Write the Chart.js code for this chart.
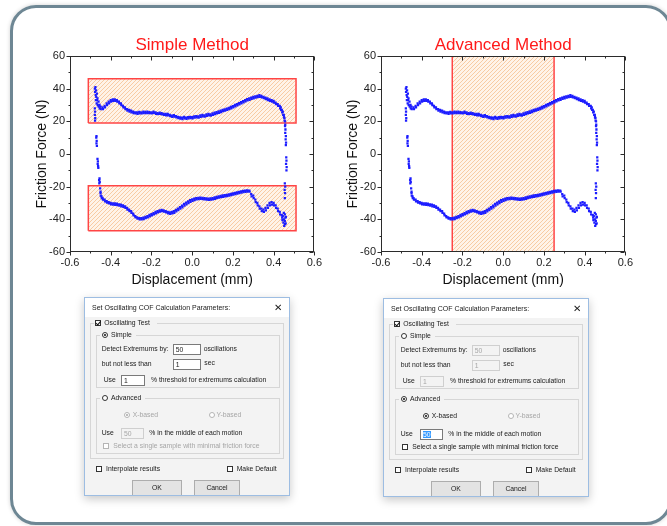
<!DOCTYPE html>
<html>
<head>
<meta charset="utf-8">
<script src="https://cdn.jsdelivr.net/npm/chart.js@4.4.1/dist/chart.umd.min.js"></script>
<style>
  html, body { margin: 0; padding: 0; background: #fff; }
  body { position: relative; width: 667px; height: 526px; overflow: hidden; font-family: "Liberation Sans", Arial, sans-serif; }
  .frame { position: absolute; left: 10px; top: 5px; width: 656px; height: 514px; border: 3px solid #6e8794; border-radius: 26px; box-shadow: 0 0 4px rgba(0,0,0,.18); }
  canvas { position: absolute; }
  #simpleChart { left: 14px; top: 30px; }
  #advancedChart { left: 325px; top: 30px; }

  .dlg { position: absolute; width: 204px; height: 197px; background: #f3f3f3; border: 1px solid #9dbde2; box-shadow: 0 3px 9px rgba(0,0,0,.22); font: 6.8px "Liberation Sans", Arial, sans-serif; color: #1a1a1a; overflow: hidden; }
  .dlg .bar { position: absolute; left: 0; top: 0; right: 0; height: 19px; background: #fff; }
  .dlg .t { position: absolute; line-height: 8px; white-space: nowrap; }
  .dlg .ttl { font-size: 7px; }
  .dlg .x { font-size: 10px; line-height: 10px; }
  .dlg .off { color: #a6a6a6; }
  .dlg .grp { position: absolute; border: 1px solid #d6d6d6; }
  .dlg .lbl { background: #f3f3f3; padding: 0 2px 0 1px; }
  .dlg .cb, .dlg .rb { position: absolute; box-sizing: border-box; width: 6px; height: 6px; border: 1px solid #333; background: #fff; }
  .dlg .rb { border-radius: 50%; }
  .dlg .cb.off, .dlg .rb.off { border-color: #b5b5b5; }
  .dlg .cb.on::after { content: ""; position: absolute; left: 1px; top: -1px; width: 1.5px; height: 3.5px; border: solid #111; border-width: 0 1px 1px 0; transform: rotate(40deg); }
  .dlg .rb.on::after { content: ""; position: absolute; left: 1px; top: 1px; width: 2px; height: 2px; border-radius: 50%; background: #111; }
  .dlg .rb.on.off::after { background: #a6a6a6; }
  .dlg .inp { position: absolute; border: 1px solid #7a7a7a; background: #fff; height: 9px; line-height: 9px; padding-left: 2px; box-sizing: content-box; }
  .dlg .inp.off { border-color: #cfcfcf; background: #f3f3f3; color: #a6a6a6; }
  .dlg .sel { background: #3399ff; color: #fff; }
  .dlg .btn { position: absolute; border: 1px solid #adadad; background: #e3e3e3; text-align: center; line-height: 13px; }
</style>
</head>
<body>
<div class="frame"></div>
<canvas id="simpleChart" width="312" height="265"></canvas>
<canvas id="advancedChart" width="312" height="265"></canvas>
<div class="dlg" id="dlgSimple" style="left:84px;top:297px"></div>
<div class="dlg" id="dlgAdvanced" style="left:383px;top:298px"></div>

<script>
// ---------------- data ----------------
const xTicks = [-0.6, -0.4, -0.2, 0.0, 0.2, 0.4, 0.6];
const yTicks = [-60, -40, -20, 0, 20, 40, 60];

// displacement (mm), friction force (N)
const upperBranch = [
  [-0.478, 40], [-0.477, 38], [-0.475, 41], [-0.474, 36], [-0.473, 33], [-0.472, 39], [-0.471, 35], [-0.469, 31],
  [-0.468, 37], [-0.467, 33], [-0.465, 34], [-0.464, 30], [-0.46, 32], [-0.459, 29], [-0.455, 30], [-0.454, 28],
  [-0.45, 29], [-0.449, 27.5], [-0.44, 28.5], [-0.438, 27.5], [-0.43, 29.5], [-0.428, 28.5], [-0.42, 31], [-0.418, 30],
  [-0.41, 32], [-0.408, 31], [-0.40, 33], [-0.398, 32], [-0.39, 33.5], [-0.388, 32.5], [-0.38, 33.5], [-0.378, 32.5],
  [-0.37, 33], [-0.368, 32], [-0.36, 32], [-0.358, 31], [-0.35, 31], [-0.348, 30], [-0.34, 29.5], [-0.338, 28.5],
  [-0.33, 28.5], [-0.328, 27.5], [-0.32, 27.5], [-0.318, 26.5], [-0.31, 27], [-0.308, 26], [-0.30, 26.5], [-0.298, 25.5],
  [-0.29, 26], [-0.288, 25], [-0.28, 25.5], [-0.278, 24.8], [-0.27, 25.5], [-0.268, 24.5], [-0.26, 25.8], [-0.258, 24.8],
  [-0.25, 25.5], [-0.248, 24.8], [-0.24, 26], [-0.238, 25], [-0.23, 25.8], [-0.228, 25], [-0.22, 26], [-0.218, 25],
  [-0.21, 25.7], [-0.208, 25], [-0.20, 25.5], [-0.198, 24.8], [-0.19, 26], [-0.188, 25.2], [-0.18, 25.5], [-0.178, 24.6],
  [-0.17, 25], [-0.168, 24.4], [-0.16, 25.3], [-0.158, 24.6], [-0.15, 25], [-0.148, 24.2], [-0.14, 24.6], [-0.138, 23.9],
  [-0.13, 24.5], [-0.128, 23.7], [-0.12, 24.6], [-0.118, 23.6], [-0.11, 24], [-0.108, 23.2], [-0.10, 23.5], [-0.098, 22.8],
  [-0.09, 23.8], [-0.088, 22.9], [-0.08, 23.2], [-0.078, 22.4], [-0.07, 22.8], [-0.068, 22], [-0.06, 22.4], [-0.058, 21.6],
  [-0.05, 22.2], [-0.048, 21.3], [-0.04, 22.8], [-0.038, 21.8], [-0.03, 22.3], [-0.028, 21.5], [-0.02, 22.6], [-0.018, 21.8],
  [-0.01, 22.8], [-0.008, 22], [0.0, 22.5], [0.002, 21.8], [0.01, 23], [0.012, 22.2], [0.02, 23.2], [0.022, 22.4],
  [0.03, 23], [0.032, 22.3], [0.04, 23.6], [0.042, 22.7], [0.05, 23.9], [0.052, 23], [0.06, 23.7], [0.062, 22.9],
  [0.07, 24.2], [0.072, 23.4], [0.08, 24.5], [0.082, 23.6], [0.09, 24.3], [0.092, 23.5], [0.10, 24.8], [0.102, 24],
  [0.11, 25.3], [0.112, 24.4], [0.12, 25.6], [0.122, 24.8], [0.13, 26.1], [0.132, 25.2], [0.14, 26.5], [0.142, 25.7],
  [0.15, 27], [0.152, 26.2], [0.16, 27.3], [0.162, 26.6], [0.17, 27.8], [0.172, 27], [0.18, 28.3], [0.182, 27.5],
  [0.19, 28.8], [0.192, 28], [0.20, 29.3], [0.202, 28.5], [0.21, 30], [0.212, 29.2], [0.22, 30.6], [0.222, 29.8],
  [0.23, 31.2], [0.232, 30.4], [0.24, 31.8], [0.242, 31], [0.25, 32.4], [0.252, 31.6], [0.26, 33], [0.262, 32.2],
  [0.27, 33.6], [0.272, 32.8], [0.28, 34], [0.282, 33.2], [0.29, 34.5], [0.292, 33.7], [0.30, 35], [0.302, 34.1],
  [0.31, 35.3], [0.312, 34.5], [0.32, 35.6], [0.322, 34.8], [0.33, 36], [0.332, 35], [0.34, 35.6], [0.342, 34.7],
  [0.35, 35], [0.352, 34.2], [0.36, 34.5], [0.362, 33.6], [0.37, 34], [0.372, 33], [0.38, 33.5], [0.382, 32.5],
  [0.39, 33], [0.392, 32], [0.40, 32.5], [0.402, 31.5], [0.41, 31.5], [0.412, 30.5], [0.42, 30.5], [0.422, 29.5],
  [0.43, 29.5], [0.432, 28], [0.435, 28.5], [0.437, 27], [0.44, 27], [0.442, 25.5], [0.445, 26], [0.447, 24],
  [0.45, 24], [0.451, 22.5], [0.453, 22], [0.454, 20.5], [0.456, 20], [0.457, 18]
];

const lowerBranch = [
  [-0.45, -24], [-0.449, -25.5], [-0.445, -26], [-0.444, -27], [-0.44, -27], [-0.438, -28], [-0.43, -28], [-0.428, -29],
  [-0.42, -28.8], [-0.418, -29.8], [-0.41, -29.5], [-0.408, -30.3], [-0.40, -30], [-0.398, -30.8], [-0.39, -30.2], [-0.388, -31],
  [-0.38, -30.3], [-0.378, -31.2], [-0.37, -30.4], [-0.368, -31.3], [-0.36, -30.8], [-0.358, -31.6], [-0.35, -31], [-0.348, -32],
  [-0.34, -31.5], [-0.338, -32.4], [-0.33, -32], [-0.328, -33], [-0.32, -33], [-0.318, -34], [-0.31, -34], [-0.308, -35],
  [-0.30, -35], [-0.298, -36], [-0.29, -36.5], [-0.288, -37.5], [-0.28, -38], [-0.278, -38.8], [-0.27, -38.8], [-0.268, -39.6],
  [-0.26, -39.2], [-0.258, -40], [-0.25, -39.2], [-0.248, -40], [-0.24, -39], [-0.238, -39.8], [-0.23, -38.5], [-0.228, -39.3],
  [-0.22, -38], [-0.218, -38.8], [-0.21, -37.3], [-0.208, -38.2], [-0.20, -36.8], [-0.198, -37.6], [-0.19, -36.2], [-0.188, -37],
  [-0.18, -35.5], [-0.178, -36.4], [-0.17, -35], [-0.168, -35.8], [-0.16, -34.5], [-0.158, -35.3], [-0.15, -34.2], [-0.148, -35],
  [-0.14, -34.5], [-0.138, -35.3], [-0.13, -35], [-0.128, -35.8], [-0.12, -35.5], [-0.118, -36.3], [-0.11, -35.8], [-0.108, -36.6],
  [-0.10, -35.5], [-0.098, -36.4], [-0.09, -35], [-0.088, -36], [-0.08, -34.2], [-0.078, -35.2], [-0.07, -33.4], [-0.068, -34.4],
  [-0.06, -32.5], [-0.058, -33.5], [-0.05, -31.6], [-0.048, -32.6], [-0.04, -30.6], [-0.038, -31.6], [-0.03, -29.8], [-0.028, -30.8],
  [-0.02, -29], [-0.018, -30], [-0.01, -28.3], [-0.008, -29.3], [0.0, -27.8], [0.002, -28.7], [0.01, -27.3], [0.012, -28.2],
  [0.02, -27], [0.022, -27.8], [0.03, -26.8], [0.032, -27.6], [0.04, -26.7], [0.042, -27.5], [0.05, -26.8], [0.052, -27.6],
  [0.06, -27], [0.062, -27.8], [0.07, -27.2], [0.072, -28], [0.08, -27.3], [0.082, -28.1], [0.09, -27.2], [0.092, -28],
  [0.10, -27], [0.102, -27.8], [0.11, -26.6], [0.112, -27.4], [0.12, -26.2], [0.122, -27], [0.13, -25.9], [0.132, -26.7],
  [0.14, -25.6], [0.142, -26.4], [0.15, -25.4], [0.152, -26.2], [0.16, -25.2], [0.162, -26], [0.17, -25], [0.172, -25.8],
  [0.18, -24.7], [0.182, -25.5], [0.19, -24.4], [0.192, -25.2], [0.20, -24.1], [0.202, -24.9], [0.21, -23.8], [0.212, -24.6],
  [0.22, -23.5], [0.222, -24.3], [0.23, -23.2], [0.232, -24], [0.24, -22.9], [0.242, -23.7], [0.25, -22.6], [0.252, -23.4],
  [0.26, -22.4], [0.262, -23.2], [0.27, -22.3], [0.272, -23], [0.28, -22.4], [0.282, -23.1], [0.29, -24.5], [0.292, -26],
  [0.30, -25.5], [0.302, -27], [0.31, -28], [0.312, -29.5], [0.32, -30], [0.322, -31.5], [0.33, -32], [0.332, -33.5],
  [0.34, -33.5], [0.342, -35], [0.35, -34], [0.352, -35.5], [0.36, -33], [0.362, -34.5], [0.37, -31.5], [0.372, -33],
  [0.38, -30], [0.382, -31.5], [0.39, -29.5], [0.392, -31], [0.40, -30], [0.402, -31.5], [0.41, -31.5], [0.412, -33],
  [0.42, -33.5], [0.422, -35], [0.43, -35.5], [0.432, -37], [0.44, -37.5], [0.442, -39]
];

const leftTurn = [
  [-0.478, 28], [-0.477, 26], [-0.478, 24], [-0.476, 22], [-0.477, 20.5], [-0.47, 11], [-0.471, 10], [-0.469, 8],
  [-0.47, 6.5], [-0.468, 5], [-0.465, -3], [-0.463, -4.5], [-0.464, -6], [-0.462, -7.5], [-0.461, -8.5], [-0.455, -15],
  [-0.457, -16], [-0.454, -17], [-0.456, -18], [-0.452, -21], [-0.45, -23]
];

const rightTurn = [
  [0.456, 17], [0.458, 15], [0.457, 13], [0.46, 11], [0.459, 9], [0.461, 7], [0.46, 5.5], [0.462, -2],
  [0.463, -4], [0.461, -6], [0.464, -8], [0.463, -10], [0.455, -18], [0.457, -20], [0.454, -22], [0.456, -24],
  [0.455, -27], [0.45, -36], [0.455, -37], [0.445, -38], [0.458, -39], [0.45, -40], [0.455, -41], [0.448, -42],
  [0.456, -43], [0.452, -44], [0.46, -38.5], [0.443, -40.5], [0.459, -42.5]
];

// calculation windows
const simpleBoxDisp = [-0.51, 0.51];
const simpleTopForce = [19, 46];
const simpleBottomForce = [-47, -19.5];
const advancedBoxDisp = [-0.25, 0.25];
const advancedBoxForce = [-60, 60];

// ---------------- drawing ----------------
const FONT = '"Liberation Sans", Arial, sans-serif';

function hatch() {
  const c = document.createElement('canvas');
  c.width = 4; c.height = 4;
  const g = c.getContext('2d');
  g.fillStyle = '#fff3e8';
  g.fillRect(0, 0, 4, 4);
  g.strokeStyle = '#f8cba3';
  g.lineWidth = 1;
  g.beginPath();
  g.moveTo(-1, 5); g.lineTo(5, -1);
  g.moveTo(3, 5); g.lineTo(5, 3);
  g.stroke();
  return g.createPattern(c, 'repeat');
}

const isOn = (v, list) => list.some(t => Math.abs(t - v) < 1e-6);

// box frame with ticks (outward on left/bottom, inward on top/right)
const framePlugin = {
  id: 'frame',
  afterDatasetsDraw(chart) {
    const { ctx, chartArea: a, scales: { x, y } } = chart;
    const L = Math.round(a.left) + 0.5, R = Math.round(a.right) - 0.5;
    const T = Math.round(a.top) + 0.5, B = Math.round(a.bottom) - 0.5;
    ctx.save();
    ctx.strokeStyle = '#2b2b2b';
    ctx.lineWidth = 1;
    ctx.strokeRect(L, T, R - L, B - T);
    ctx.beginPath();
    x.ticks.forEach(t => {
      const px = Math.round(x.getPixelForValue(t.value)) + 0.5;
      const len = isOn(t.value, xTicks) ? 4 : 2;
      ctx.moveTo(px, B); ctx.lineTo(px, B + len);
      ctx.moveTo(px, T); ctx.lineTo(px, T + len);
    });
    y.ticks.forEach(t => {
      const py = Math.round(y.getPixelForValue(t.value)) + 0.5;
      const len = isOn(t.value, yTicks) ? 4 : 2;
      ctx.moveTo(L, py); ctx.lineTo(L - len, py);
      ctx.moveTo(R, py); ctx.lineTo(R - len, py);
    });
    ctx.stroke();
    ctx.restore();
  }
};

function toPts(list) {
  return list.map(([x, y]) => ({ x, y }));
}

function boxSet(disp, force, pattern) {
  return {
    data: toPts([[disp[0], force[0]], [disp[1], force[0]], [disp[1], force[1]], [disp[0], force[1]], [disp[0], force[0]]]),
    showLine: true, fill: 'shape', backgroundColor: pattern,
    borderColor: '#ff4545', borderWidth: 1.5, pointRadius: 0, order: 2
  };
}

function makeChart(id, title, boxes, padRight) {
  const pattern = hatch();
  const points = [upperBranch, leftTurn, lowerBranch, rightTurn].map(list => ({
    data: toPts(list), pointStyle: 'rect', pointRadius: 1.6, borderWidth: 0,
    backgroundColor: '#1c1cff', showLine: false, order: 1
  }));
  return new Chart(document.getElementById(id), {
    type: 'scatter',
    data: { datasets: points.concat(boxes.map(b => boxSet(b[0], b[1], pattern))) },
    options: {
      responsive: false, animation: false, events: [],
      layout: { padding: { left: 0, right: padRight, top: 0, bottom: 0 } },
      plugins: {
        legend: { display: false },
        tooltip: { enabled: false },
        title: {
          display: true, text: title, color: '#ff1a1a', fullSize: false,
          font: { family: FONT, size: 17, weight: 'normal' }, padding: { top: 5, bottom: 0.6 }
        }
      },
      scales: {
        x: {
          type: 'linear', min: -0.6, max: 0.6,
          grid: { display: false, drawTicks: false }, border: { display: false },
          ticks: {
            stepSize: 0.1, autoSkip: false, maxRotation: 0, padding: 4, color: '#222',
            font: { family: FONT, size: 11 },
            callback: v => isOn(v, xTicks) ? v.toFixed(1) : ''
          },
          title: { display: true, text: 'Displacement (mm)', color: '#111', font: { family: FONT, size: 14 }, padding: { top: 0, bottom: 6.6 } },
          afterFit: s => { s.height = 43; }
        },
        y: {
          type: 'linear', min: -60, max: 60,
          grid: { display: false, drawTicks: false }, border: { display: false },
          ticks: {
            stepSize: 10, autoSkip: false, padding: 5, color: '#222',
            font: { family: FONT, size: 11 },
            callback: v => isOn(v, yTicks) ? String(v) : ''
          },
          title: { display: true, text: 'Friction Force (N)', color: '#111', font: { family: FONT, size: 14 }, padding: { top: 20, bottom: 0 } },
          afterFit: s => { s.width = 56; }
        }
      }
    },
    plugins: [framePlugin]
  });
}

makeChart('simpleChart', 'Simple Method', [[simpleBoxDisp, simpleTopForce], [simpleBoxDisp, simpleBottomForce]], 11);
makeChart('advancedChart', 'Advanced Method', [[advancedBoxDisp, advancedBoxForce]], 10);

// ---------------- dialogs ----------------
function txt(x, cy, s, cls) {
  return `<span class="t ${cls || ''}" style="left:${x}px;top:${cy - 4}px">${s}</span>`;
}
function box(kind, x, cy, on, off) {
  return `<span class="${kind}${on ? ' on' : ''}${off ? ' off' : ''}" style="left:${x}px;top:${cy - 3}px"></span>`;
}
function inp(x, y, w, val, off, sel) {
  const v = sel ? `<span class="sel">${val}</span>` : val;
  return `<span class="inp t${off ? ' off' : ''}" style="left:${x}px;top:${y}px;width:${w}px">${v}</span>`;
}

function buildDialog(el, advanced) {
  const s = advanced, a = !advanced;   // disabled flags
  el.innerHTML = `
    <div class="bar"></div>
    ${txt(7, 10, 'Set Oscillating COF Calculation Parameters:', 'ttl')}
    <span class="t x" style="left:189px;top:5px">&#x2715;</span>
    <div class="grp" style="left:5px;top:24.5px;width:192px;height:134px"></div>
    <div class="grp" style="left:11px;top:37px;width:182px;height:51px"></div>
    <div class="grp" style="left:11px;top:99.5px;width:182px;height:54px"></div>
    <span class="t lbl" style="left:9px;top:20.5px;width:60px;height:8px"></span>
    ${box('cb', 10, 24.5, true)}${txt(19.3, 24.7, 'Oscillating Test')}
    <span class="t lbl" style="left:15px;top:33.3px;width:33px;height:8px"></span>
    ${box('rb', 16.7, 37.3, !advanced)}${txt(26, 37.3, 'Simple')}
    ${txt(16.7, 51.3, 'Detect Extremums by:')}${inp(87.7, 46.3, 24.5, '50', s)}${txt(118.7, 51.3, 'oscillations')}
    ${txt(16.7, 65.7, 'but not less than')}${inp(87.7, 60.5, 24.5, '1', s)}${txt(119.3, 64.5, 'sec')}
    ${txt(18.7, 81.7, 'Use')}${inp(36, 76.5, 20, '1', s)}${txt(66, 81.7, '% threshold for extremums calculation')}
    <span class="t lbl" style="left:15px;top:95.7px;width:42px;height:8px"></span>
    ${box('rb', 16.7, 99.7, advanced)}${txt(26, 99.7, 'Advanced')}
    ${box('rb', 39.3, 117, true, a)}${txt(47.7, 117, 'X-based', a ? 'off' : '')}
    ${box('rb', 124.3, 117, false, true)}${txt(131.5, 117, 'Y-based', 'off')}
    ${txt(16.7, 134.7, 'Use')}${inp(36, 129.5, 18.5, '50', a, advanced)}${txt(64.3, 134.7, '% in the middle of each motion')}
    ${box('cb', 17.7, 148.3, false, a)}${txt(28.3, 148.3, 'Select a single sample with minimal friction force', a ? 'off' : '')}
    ${box('cb', 11, 170.7, false)}${txt(21, 170.7, 'Interpolate results')}
    ${box('cb', 141.7, 170.7, false)}${txt(151.7, 170.7, 'Make Default')}
    <span class="btn" style="left:47px;top:182px;width:48px;height:14px">OK</span>
    <span class="btn" style="left:109px;top:182px;width:44px;height:14px">Cancel</span>
  `;
}

buildDialog(document.getElementById('dlgSimple'), false);
buildDialog(document.getElementById('dlgAdvanced'), true);
</script>
</body>
</html>
